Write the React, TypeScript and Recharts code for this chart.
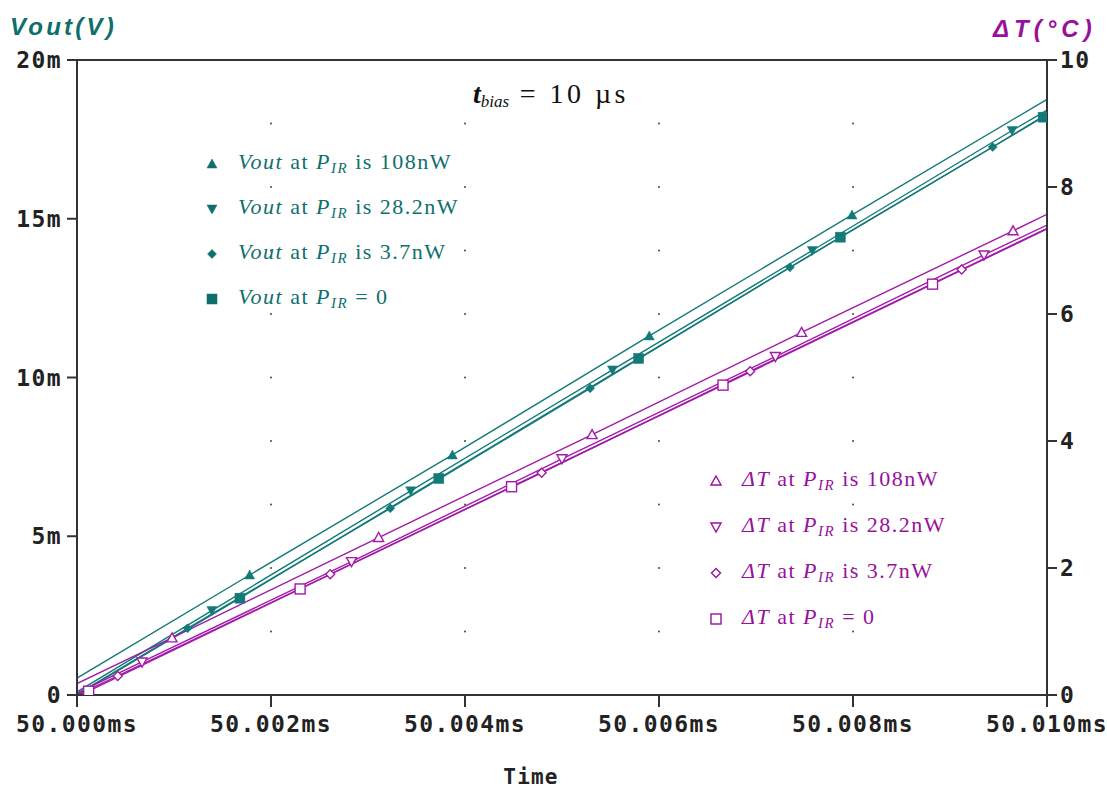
import React from 'react';
import { ComposedChart, Line, XAxis, YAxis, ReferenceLine, ReferenceDot } from 'recharts';

// ---- axes ----
const xTicks = [0, 2, 4, 6, 8, 10]; // µs after 50 ms
const xTickLabels = ['50.000ms', '50.002ms', '50.004ms', '50.006ms', '50.008ms', '50.010ms'];
const leftTicks = [0, 5, 10, 15, 20]; // mV
const leftTickLabels = ['0', '5m', '10m', '15m', '20m'];
const rightTicks = [0, 2, 4, 6, 8, 10];
const rightTickLabels = ['0', '2', '4', '6', '8', '10'];
const gridDotX = [2, 4, 6, 8];
const gridDotY = [1, 2, 3, 4, 5, 6, 7, 8, 9];

// ---- Vout series (left axis, mV) ----
const vout108T = [0, 1.78, 3.87, 5.9, 7.99, 10];
const vout108V = [0.53, 3.78, 7.56, 11.31, 15.12, 18.76];
const vout28T = [0, 1.39, 3.44, 5.52, 7.58, 9.64, 10];
const vout28V = [0.1, 2.66, 6.43, 10.24, 14.0, 17.78, 18.42];
const vout37T = [0, 1.14, 3.23, 5.29, 7.35, 9.44, 10];
const vout37V = [0.02, 2.1, 5.88, 9.66, 13.47, 17.26, 18.3];
const vout0T = [0, 1.68, 3.73, 5.79, 7.87, 9.96, 10];
const vout0V = [0, 3.05, 6.82, 10.6, 14.42, 18.2, 18.26];

// ---- ΔT series (right axis, °C) ----
const dt108T = [0, 0.98, 3.11, 5.31, 7.47, 9.65, 10];
const dt108V = [0.18, 0.9, 2.48, 4.1, 5.71, 7.31, 7.57];
const dt28T = [0, 0.67, 2.83, 5.0, 7.2, 9.35, 10];
const dt28V = [0.03, 0.52, 2.1, 3.72, 5.33, 6.93, 7.4];
const dt37T = [0, 0.42, 2.61, 4.79, 6.94, 9.12, 10];
const dt37V = [0, 0.3, 1.9, 3.5, 5.1, 6.7, 7.35];
const dt0T = [0, 0.12, 2.3, 4.48, 6.66, 8.82, 10];
const dt0V = [0, 0.06, 1.67, 3.28, 4.88, 6.47, 7.34];

const TEAL = '#137A78';
const TEAL_TXT = '#0E6F6D';
const MAG = '#A21AA9';
const MAG_TXT = '#98109C';
const AXIS = '#333333';
const MONO = '"DejaVu Sans Mono", monospace';
const SERIF = '"Liberation Serif", "DejaVu Serif", serif';
const SANS = '"Liberation Sans", Arial, sans-serif';

const zip = (ts: number[], vs: number[]) => ts.map((t, i) => ({ t, v: vs[i] }));

type Shape = 'triUp' | 'triDown' | 'diamond' | 'square';

function Marker({ shape, cx, cy, color, hollow }: { shape: Shape; cx: number; cy: number; color: string; hollow?: boolean }) {
  const fill = hollow ? '#fff' : color;
  const sw = hollow ? 1.4 : 0.5;
  if (shape === 'triUp') {
    return <polygon points={`${cx},${cy - 5} ${cx + 5},${cy + 4} ${cx - 5},${cy + 4}`} fill={fill} stroke={color} strokeWidth={sw} />;
  }
  if (shape === 'triDown') {
    return <polygon points={`${cx - 5},${cy - 4} ${cx + 5},${cy - 4} ${cx},${cy + 5}`} fill={fill} stroke={color} strokeWidth={sw} />;
  }
  if (shape === 'diamond') {
    return <polygon points={`${cx},${cy - 4.5} ${cx + 4.5},${cy} ${cx},${cy + 4.5} ${cx - 4.5},${cy}`} fill={fill} stroke={color} strokeWidth={sw} />;
  }
  return <rect x={cx - 5} y={cy - 5} width={10} height={10} fill={fill} stroke={color} strokeWidth={sw} />;
}

const seriesList = [
  { id: 'v108', data: zip(vout108T, vout108V), axis: 'left', color: TEAL, shape: 'triUp' as Shape, hollow: false },
  { id: 'v28', data: zip(vout28T, vout28V), axis: 'left', color: TEAL, shape: 'triDown' as Shape, hollow: false },
  { id: 'v37', data: zip(vout37T, vout37V), axis: 'left', color: TEAL, shape: 'diamond' as Shape, hollow: false },
  { id: 'v0', data: zip(vout0T, vout0V), axis: 'left', color: TEAL, shape: 'square' as Shape, hollow: false },
  { id: 't108', data: zip(dt108T, dt108V), axis: 'right', color: MAG, shape: 'triUp' as Shape, hollow: true },
  { id: 't28', data: zip(dt28T, dt28V), axis: 'right', color: MAG, shape: 'triDown' as Shape, hollow: true },
  { id: 't37', data: zip(dt37T, dt37V), axis: 'right', color: MAG, shape: 'diamond' as Shape, hollow: true },
  { id: 't0', data: zip(dt0T, dt0V), axis: 'right', color: MAG, shape: 'square' as Shape, hollow: true },
];

const voutLegend = [
  { shape: 'triUp' as Shape, tail: 'is 108nW' },
  { shape: 'triDown' as Shape, tail: 'is 28.2nW' },
  { shape: 'diamond' as Shape, tail: 'is 3.7nW' },
  { shape: 'square' as Shape, tail: '= 0' },
];

const tickStyle = { fill: '#222', fontFamily: MONO, fontWeight: 700, fontSize: 23, letterSpacing: 1.4 };

function LegendRow({ x, y, shape, color, hollow, head, tail }: any) {
  return (
    <g>
      <Marker shape={shape} cx={x} cy={y - 5} color={color} hollow={hollow} />
      <text x={x + 26} y={y} fill={color} fontFamily={SERIF} fontSize={22} letterSpacing={1.5}>
        <tspan fontStyle="italic">{head}</tspan>
        <tspan> at </tspan>
        <tspan fontStyle="italic">P</tspan>
        <tspan fontStyle="italic" fontSize={15} dy={4}>IR</tspan>
        <tspan dy={-4}>{' ' + tail}</tspan>
      </text>
    </g>
  );
}

export default function App() {
  const dots: React.ReactNode[] = [];
  gridDotX.forEach((gx) =>
    gridDotY.forEach((gy) =>
      dots.push(
        <ReferenceDot key={`g${gx}-${gy}`} x={gx} y={gy} yAxisId="right" r={1} fill="#444" stroke="none" />
      )
    )
  );

  return (
    <div style={{ position: 'absolute', left: 0, top: 0, width: 1107, height: 790, background: '#fff' }}>
      <ComposedChart width={1107} height={790} margin={{ top: 60, right: 10, bottom: 45, left: 17 }}>
        <XAxis
          type="number"
          dataKey="t"
          domain={[0, 10]}
          ticks={xTicks}
          interval={0}
          allowDataOverflow
          tickFormatter={(_v: number, i: number) => xTickLabels[i]}
          height={50}
          tickSize={12}
          tickMargin={9}
          stroke={AXIS}
          strokeWidth={2}
          tick={tickStyle}
        />
        <YAxis
          yAxisId="left"
          domain={[0, 20]}
          ticks={leftTicks}
          interval={0}
          allowDataOverflow
          tickFormatter={(_v: number, i: number) => leftTickLabels[i]}
          width={60}
          tickSize={10}
          tickMargin={5}
          stroke={AXIS}
          strokeWidth={2}
          tick={tickStyle}
        />
        <YAxis
          yAxisId="right"
          orientation="right"
          domain={[0, 10]}
          ticks={rightTicks}
          interval={0}
          allowDataOverflow
          tickFormatter={(_v: number, i: number) => rightTickLabels[i]}
          width={50}
          tickSize={10}
          tickMargin={3}
          stroke={AXIS}
          strokeWidth={2}
          tick={tickStyle}
        />
        <ReferenceLine yAxisId="left" y={20} stroke={AXIS} strokeWidth={2} />
        {dots}
        {seriesList.map((s) => (
          <Line
            key={s.id}
            data={s.data}
            dataKey="v"
            yAxisId={s.axis}
            type="linear"
            stroke={s.color}
            strokeWidth={1.4}
            isAnimationActive={false}
            dot={(p: any) =>
              p.index === 0 || p.index === s.data.length - 1 ? (
                <g key={`${s.id}-${p.index}`} />
              ) : (
                <Marker key={`${s.id}-${p.index}`} shape={s.shape} cx={p.cx} cy={p.cy} color={s.color} hollow={s.hollow} />
              )
            }
            activeDot={false}
          />
        ))}
      </ComposedChart>

      <svg width={1107} height={790} style={{ position: 'absolute', left: 0, top: 0, pointerEvents: 'none' }}>
        <text x={10} y={35} fill={TEAL_TXT} fontFamily={SANS} fontWeight={700} fontStyle="italic" fontSize={24} letterSpacing={3.2}>
          Vout(V)
        </text>
        <text x={993} y={37} fill={MAG_TXT} fontFamily={SANS} fontWeight={700} fontStyle="italic" fontSize={24} letterSpacing={5}>
          ΔT(°C)
        </text>
        <text x={531} y={784} fill="#222" fontFamily={MONO} fontWeight={700} fontSize={21} letterSpacing={1.2} textAnchor="middle">
          Time
        </text>
        <text x={473} y={103} fill="#111" fontFamily={SERIF} fontSize={28}>
          <tspan fontStyle="italic" fontWeight={700}>t</tspan>
          <tspan fontStyle="italic" fontSize={17} dy={4}>bias</tspan>
          <tspan dy={-4} letterSpacing={3.5}> = 10 µs</tspan>
        </text>
        {voutLegend.map((r, i) => (
          <LegendRow key={`vl${i}`} x={212} y={169 + i * 45} shape={r.shape} color={TEAL_TXT} hollow={false} head="Vout" tail={r.tail} />
        ))}
        {voutLegend.map((r, i) => (
          <LegendRow key={`tl${i}`} x={716} y={486 + i * 46} shape={r.shape} color={MAG_TXT} hollow={true} head="ΔT" tail={r.tail} />
        ))}
      </svg>
    </div>
  );
}
